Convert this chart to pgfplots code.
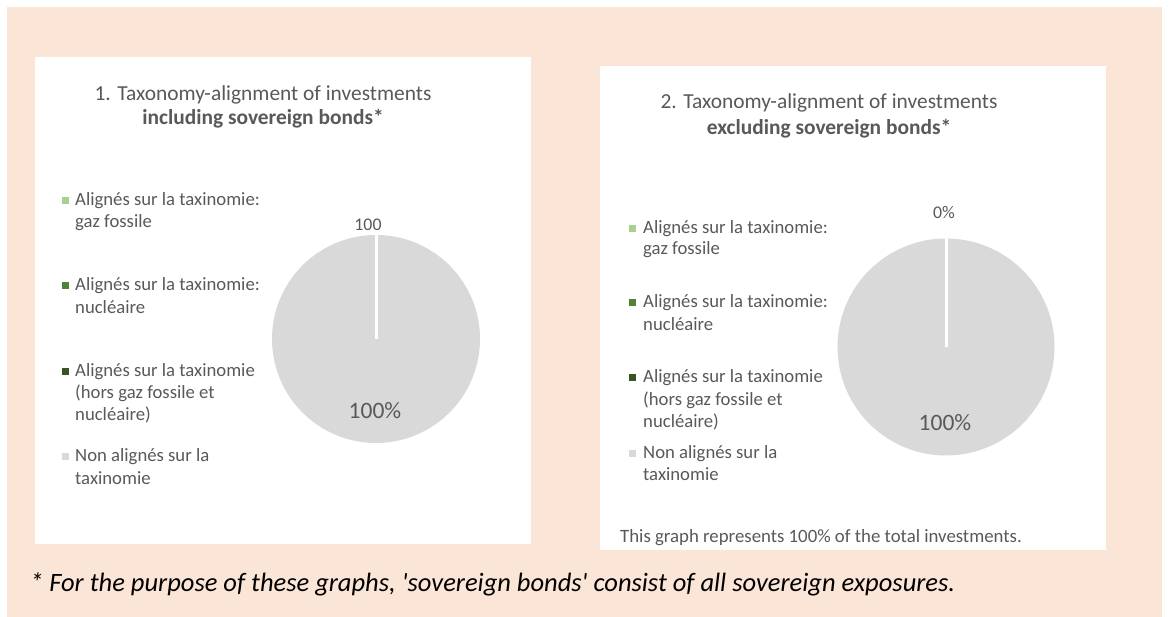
\documentclass[border=0pt]{standalone}
\usepackage{pgfplots}
\usepackage{pgfplotstable}
\pgfplotsset{compat=1.18}
\usepackage{fontspec}
\setmainfont{Carlito}
\definecolor{beige}{HTML}{FBE5D6}
\definecolor{txt}{HTML}{595959}
\definecolor{piegray}{HTML}{D9D9D9}
\definecolor{gLight}{HTML}{A9D18E}
\definecolor{gMid}{HTML}{548235}
\definecolor{gDark}{HTML}{375623}

% shares (%) : gaz fossile, nucleaire, hors gaz/nucleaire, non alignes
\pgfplotstableread{
cat value
gaz 0
nuc 0
hors 0
non 100
}\dataA
\pgfplotstableread{
cat value
gaz 0
nuc 0
hors 0
non 100
}\dataB

\newcommand{\tfont}{\fontsize{21.4bp}{24bp}\selectfont}
\newcommand{\lfont}{\fontsize{18.7bp}{22bp}\selectfont}

\begin{document}
\begin{tikzpicture}[x=1bp,y=1bp]
\path[use as bounding box, fill=white] (0,0) rectangle (1170,617);
\fill[beige] (7,0) rectangle (1162,610);
\fill[white] (35,73) rectangle (531,560);
\fill[white] (600,67) rectangle (1106,551);

% ---- titles
\node[txt, font=\tfont, anchor=mid] at (263,519) {1. Taxonomy-alignment of investments};
\node[txt, font=\tfont\bfseries, anchor=mid] at (263,495) {including sovereign bonds*};
\node[txt, font=\tfont, anchor=mid] at (829,511) {2. Taxonomy-alignment of investments};
\node[txt, font=\tfont\bfseries, anchor=mid] at (829,485) {excluding sovereign bonds*};

% ---- legend texts, left
\begin{scope}[every node/.style={txt, font=\lfont, anchor=mid west, inner sep=0pt}]
\node at (75,414) {Alignés sur la taxinomie:};
\node at (75,392) {gaz fossile};
\node at (75,329) {Alignés sur la taxinomie:};
\node at (75,306) {nucléaire};
\node at (75,243) {Alignés sur la taxinomie};
\node at (75,221) {(hors gaz fossile et};
\node at (75,199) {nucléaire)};
\node at (75,158) {Non alignés sur la};
\node at (75,135) {taxinomie};
% right
\node at (643,386) {Alignés sur la taxinomie:};
\node at (643,365) {gaz fossile};
\node at (643,312) {Alignés sur la taxinomie:};
\node at (643,289) {nucléaire};
\node at (643,237) {Alignés sur la taxinomie};
\node at (643,214) {(hors gaz fossile et};
\node at (643,192) {nucléaire)};
\node at (643,161) {Non alignés sur la};
\node at (643,139) {taxinomie};
\end{scope}

% ---- legend markers through a pixel axis
\begin{axis}[at={(0bp,0bp)}, anchor=south west, scale only axis, width=1170bp, height=617bp,
  xmin=0, xmax=1170, ymin=0, ymax=617, hide axis, clip=false]
\addplot[only marks, mark=square*, mark size=3bp, color=gLight] coordinates {(65,417) (632,389)};
\addplot[only marks, mark=square*, mark size=3bp, color=gMid] coordinates {(65,332) (632,315)};
\addplot[only marks, mark=square*, mark size=3bp, color=gDark] coordinates {(65,246) (632,240)};
\addplot[only marks, mark=square*, mark size=3bp, color=piegray] coordinates {(65,161) (632,164)};
\end{axis}

% ---- pie 1
\pgfplotstablegetelem{3}{value}\of\dataA
\pgfmathsetmacro{\endA}{90-3.6*\pgfplotsretval}
\begin{axis}[at={(376bp,278bp)}, anchor=center, scale only axis, width=208bp, height=208bp,
  xmin=-1, xmax=1, ymin=-1, ymax=1, hide axis, clip=false]
\addplot[draw=none, fill=piegray, data cs=polar, domain=\endA:90, samples=181] ({x},{1}) -- cycle;
\addplot[white, line width=3bp, data cs=polar] coordinates {(90,0) (90,1.02)};
\end{axis}
\node[txt, font=\fontsize{17.8bp}{20bp}\selectfont, anchor=mid] at (368,389) {100};
\node[txt, font=\fontsize{23.5bp}{26bp}\selectfont, anchor=mid] at (375,201) {100\%};

% ---- pie 2
\pgfplotstablegetelem{3}{value}\of\dataB
\pgfmathsetmacro{\endB}{90-3.6*\pgfplotsretval}
\begin{axis}[at={(946bp,270bp)}, anchor=center, scale only axis, width=217bp, height=217bp,
  xmin=-1, xmax=1, ymin=-1, ymax=1, hide axis, clip=false]
\addplot[draw=none, fill=piegray, data cs=polar, domain=\endB:90, samples=181] ({x},{1}) -- cycle;
\addplot[white, line width=3bp, data cs=polar] coordinates {(90,0) (90,1.02)};
\end{axis}
\node[txt, font=\fontsize{17.8bp}{20bp}\selectfont, anchor=mid] at (944,401) {0\%};
\node[txt, font=\fontsize{23.5bp}{26bp}\selectfont, anchor=mid] at (945,189) {100\%};

% ---- notes
\node[txt, font=\fontsize{18.8bp}{20bp}\selectfont, anchor=mid west, inner sep=0pt] at (620,77) {This graph represents 100\% of the total investments.};
\node[black, font=\fontsize{26.5bp}{28bp}\selectfont\itshape, anchor=mid west, inner sep=0pt] at (30,28) {* For the purpose of these graphs, \textquotesingle sovereign bonds\textquotesingle{} consist of all sovereign exposures.};
\end{tikzpicture}
\end{document}
